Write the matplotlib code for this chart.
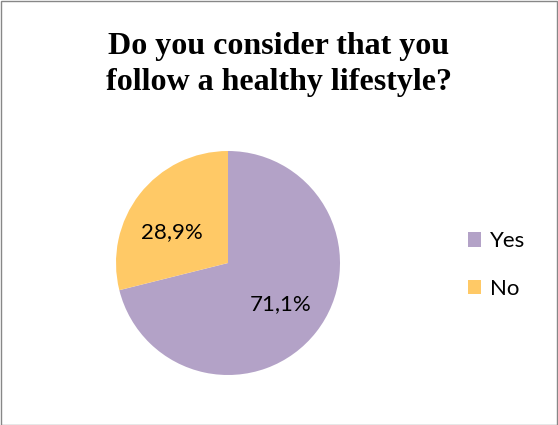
import matplotlib.pyplot as plt
from matplotlib.patches import Rectangle, Patch

categorias = ["Yes", "No"]
porcentagens = [71.1, 28.9]
cores = ['#B3A2C7', '#FFC966']
titulo = "Do you consider that you\nfollow a healthy lifestyle?"

fig = plt.figure(figsize=(5.58, 4.25), dpi=100)

# borda do gráfico
fig.patches.append(Rectangle((0.001, 0.001), 0.997, 0.997, transform=fig.transFigure,
                             fill=False, edgecolor='#878787', linewidth=1.0))

fig.text(0.5, 0.848, titulo, ha='center', va='center', fontsize=23,
         fontweight='bold', family='Liberation Serif', linespacing=1.33)

ax = fig.add_axes([116 / 558, 50 / 425, 224 / 558, 224 / 425])
wedges, textos, pcts = ax.pie(porcentagens, colors=cores, startangle=90, counterclock=False,
                              autopct=lambda p: f"{p:.1f}%".replace('.', ','),
                              pctdistance=0.6, radius=1,
                              textprops={'fontsize': 16, 'family': 'Lato'})
# posição "best fit" como no Excel
x, y = pcts[1].get_position()
pcts[1].set_position((x - 0.03, y - 0.09))
ax.set_xlim(-1, 1)
ax.set_ylim(-1, 1)
ax.set_aspect('equal')

handles = [Patch(facecolor=c, edgecolor='none') for c in cores]
fig.legend(handles, categorias, loc='center left', bbox_to_anchor=(0.802, 0.376),
           frameon=False, prop={'family': 'Lato', 'size': 16},
           handlelength=0.6, handleheight=0.6, handletextpad=0.4, labelspacing=1.25)

plt.savefig('out.png', dpi=100)
